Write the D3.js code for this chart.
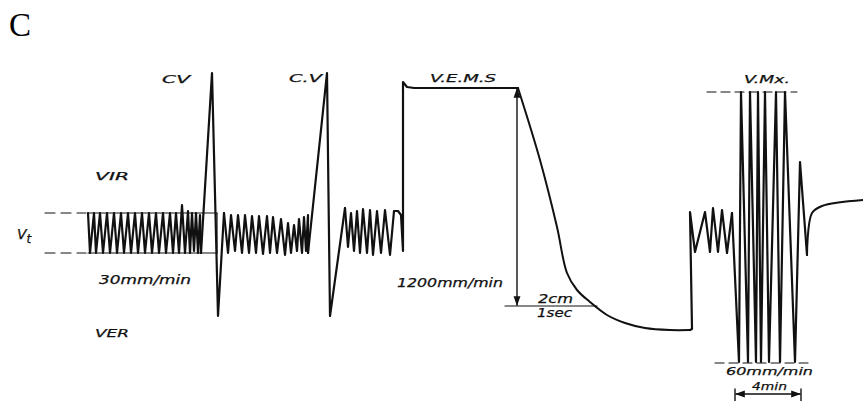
<!DOCTYPE html>
<html>
<head>
<meta charset="utf-8">
<script src="https://cdn.jsdelivr.net/npm/d3@7"></script>
<style>
  body { margin: 0; background: #fff; }
  text { font-family: "DejaVu Sans", sans-serif; font-style: italic; fill: #111; stroke: #111; stroke-width: 0.25px; }
</style>
</head>
<body>
<div id="chart"></div>
<script>
// Spirogram trace, [time (mm of paper), volume (units above end-expiration)]
var tidalRest = [[88,40],[90,0],[94,40],[96,0],[100,40],[103,0],[107,40],[110,0],[114,40],[117,0],
  [121,40],[124,0],[128,40],[131,0],[135,40],[138,0],[142,40],[145,0],[149,40],[152,0],[156,40],[159,0],
  [163,40],[166,0],[170,40],[173,0],[176,40],[179,0],[182,48],[185,0],[188,42],[190,0],[192,40],[194,2],
  [196,40],[198,0],[200,38],[201,0]];
var vitalCap1 = [[201,0],[212,180],[218,-63],[224,40]];
var tidalMid = [[224,40],[228,0],[231,38],[235,2],[238,38],[242,0],[245,38],[249,0],[252,37],[256,0],
  [259,37],[263,-1],[267,37],[270,0],[273,36],[277,0],[281,34],[285,-2],[288,30],[291,0],[294,28],
  [297,2],[299,34],[302,0],[304,36],[306,2],[308,38],[308,0]];
var vitalCap2 = [[308,0],[327,180],[330,-63],[345,45]];
var tidalPre = [[345,45],[348,6],[351,40],[354,2],[357,42],[360,0],[363,44],[367,0],[370,43],[373,-2],
  [377,42],[381,0],[385,43],[390,-2],[394,42],[398,42],[401,38],[403,2],[403,171],[407,166],[414,165],[518,165]];
var forcedExp = [[518,165],[540,93],[557,26],[567,-20],[577,-37],[590,-49],[607,-62],[625,-70],
  [645,-75],[670,-77],[690,-77]];
var tidalPost = [[690,-77],[692,-76],[690,41],[695,1],[705,41],[710,1],[713,45],[718,1],[722,43],[727,0],[732,40]];
var maxVent = [[732,40],[739,-109],[741,161],[748,-109],[750,161],[756,-109],[758,161],[761,-109],
  [765,161],[769,-109],[776,161],[780,-109],[785,161],[795,-109],[800,91],[807,-2]];
var recovery = [[807,-2],[812,40],[822,47],[863,53]];

// reference levels: tidal range, VEMS top/bottom, max ventilation range
var tidalLevels = [40, 0];
var vemsLevels = [165, -53];
var mvvLevels = [161, -110];

var labels = ["CV", "C.V", "V.E.M.S", "V.Mx.", "VIR", "VER", "30mm/min", "1200mm/min", "2cm", "1sec", "60mm/min", "4min"];

var width = 863, height = 401;
var svg = d3.select("#chart").append("svg")
  .attr("width", width)
  .attr("height", height);

var x = d3.scaleLinear().domain([0, 863]).range([0, 863]);
var y = d3.scaleLinear().domain([0, 40]).range([253, 213]);

// arrow heads
var defs = svg.append("defs");
defs.append("marker").attr("id", "ah").attr("viewBox", "0 0 10 10")
  .attr("refX", 9).attr("refY", 5).attr("markerWidth", 7).attr("markerHeight", 7)
  .attr("orient", "auto-start-reverse")
  .append("path").attr("d", "M0,1.5L10,5L0,8.5Z").attr("fill", "#111");

// panel letter
svg.append("text").text("C")
  .attr("x", 9).attr("y", 36)
  .style("font-family", "'Liberation Serif', serif")
  .style("font-style", "normal")
  .style("font-size", "33px")
  .style("stroke", "none")
  .style("fill", "#000");

var line = d3.line().x(d => x(d[0])).y(d => y(d[1]));
var smooth = d3.line().x(d => x(d[0])).y(d => y(d[1])).curve(d3.curveCatmullRom);

var g = svg.append("g")
  .attr("fill", "none")
  .attr("stroke", "#111")
  .attr("stroke-linejoin", "round")
  .attr("stroke-linecap", "round");

// tidal reference lines
tidalLevels.forEach(function (v) {
  g.append("line")
    .attr("x1", x(45)).attr("x2", x(86))
    .attr("y1", y(v)).attr("y2", y(v))
    .attr("stroke-width", 1.2)
    .attr("stroke-dasharray", "10,6");
  g.append("line")
    .attr("x1", x(88)).attr("x2", x(217))
    .attr("y1", y(v)).attr("y2", y(v))
    .attr("stroke-width", 1.2);
});
g.append("line")
  .attr("x1", x(217)).attr("x2", x(217))
  .attr("y1", y(tidalLevels[0])).attr("y2", y(tidalLevels[1]))
  .attr("stroke-width", 1.2);

// max ventilation dashed limits
g.append("line").attr("x1", x(707)).attr("x2", x(797))
  .attr("y1", y(mvvLevels[0])).attr("y2", y(mvvLevels[0]))
  .attr("stroke-width", 1.2).attr("stroke-dasharray", "9,5");
g.append("line").attr("x1", x(715)).attr("x2", x(813))
  .attr("y1", y(mvvLevels[1])).attr("y2", y(mvvLevels[1]))
  .attr("stroke-width", 1.2).attr("stroke-dasharray", "9,5");

// VEMS measurement
g.append("line").attr("x1", x(517)).attr("x2", x(517))
  .attr("y1", y(vemsLevels[0]) + 1).attr("y2", y(vemsLevels[1]) - 1)
  .attr("stroke-width", 1.4)
  .attr("marker-start", "url(#ah)")
  .attr("marker-end", "url(#ah)");
g.append("line").attr("x1", x(505)).attr("x2", x(597))
  .attr("y1", y(vemsLevels[1])).attr("y2", y(vemsLevels[1]))
  .attr("stroke-width", 1.2);

// 4 min time bar
g.append("line").attr("x1", x(736)).attr("x2", x(800))
  .attr("y1", 394).attr("y2", 394)
  .attr("stroke-width", 1.4)
  .attr("marker-start", "url(#ah)")
  .attr("marker-end", "url(#ah)");
[735, 801].forEach(function (t) {
  g.append("line").attr("x1", x(t)).attr("x2", x(t))
    .attr("y1", 389).attr("y2", 401).attr("stroke-width", 1.4);
});

// the trace
[tidalRest, vitalCap1, tidalMid, vitalCap2, tidalPre, tidalPost, maxVent].forEach(function (seg) {
  g.append("path").attr("d", line(seg)).attr("stroke-width", 2.2);
});
[forcedExp, recovery].forEach(function (seg) {
  g.append("path").attr("d", smooth(seg)).attr("stroke-width", 2);
});

// hand lettering
var pos = {
  "CV": [162, 83, 28, 11],
  "C.V": [289, 82, 33, 11],
  "V.E.M.S": [430, 82, 66, 11],
  "V.Mx.": [744, 83, 46, 11],
  "VIR": [95, 180, 34, 11],
  "VER": [95, 337, 34, 11],
  "30mm/min": [99, 284, 92, 12],
  "1200mm/min": [397, 287, 106, 12],
  "2cm": [538, 303, 35, 12],
  "1sec": [537, 317, 35, 12],
  "60mm/min": [726, 375, 87, 11],
  "4min": [752, 389.5, 35, 10.5]
};
labels.forEach(function (s) {
  var p = pos[s];
  svg.append("text").text(s)
    .attr("x", p[0]).attr("y", p[1])
    .attr("textLength", p[2])
    .attr("lengthAdjust", "spacingAndGlyphs")
    .style("font-size", p[3] + "px");
});

// V with subscript t
var vt = svg.append("text").attr("x", 17).attr("y", 239).style("font-size", "14px");
vt.append("tspan").text("V");
vt.append("tspan").text("t").attr("dy", 4).style("font-size", "12px");
</script>
</body>
</html>
